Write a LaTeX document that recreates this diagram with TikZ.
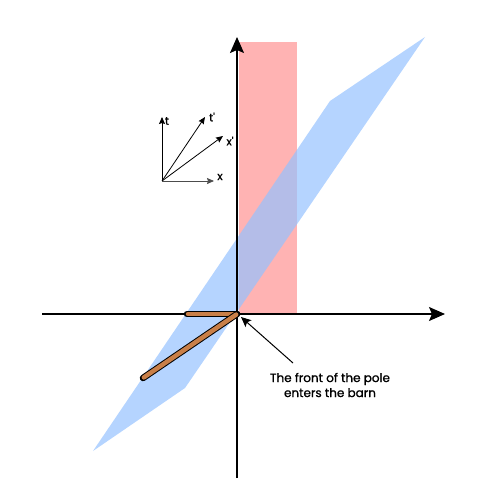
\documentclass[tikz,border=0pt]{standalone}
\usepackage{fontspec}
\setmainfont{Poppins}
\newfontfamily\semib{Poppins}[FakeBold=1.2]
\usetikzlibrary{arrows.meta}
\definecolor{barn}{RGB}{255,179,179}
\definecolor{sky}{RGB}{149,194,255}
\definecolor{pole}{RGB}{201,127,72}
\tikzset{
  axis/.style={line width=1.6pt,-{Stealth[length=16pt,width=14pt,inset=3pt]}},
  small/.style={line width=0.8pt,-{Stealth[length=7pt,width=6pt,inset=1pt]}},
  lbl/.style={font=\semib\fontsize{12pt}{15pt}\selectfont, inner sep=1pt},
  ilbl/.style={font=\semib\fontsize{11pt}{13pt}\selectfont, inner sep=1pt},
  poleout/.style={line width=6.5pt,black},
  polein/.style={line width=4.5pt,pole},
}
\begin{document}
\begin{tikzpicture}[x=1pt,y=-1pt]
\useasboundingbox (0,0) rectangle (500,500);
% barn
\fill[barn] (239,42) rectangle (297,314);
% pole frame region
\fill[sky,opacity=0.7] (425,37) -- (330,101) -- (93,451) -- (185,388) -- cycle;
% axes
\coordinate (O) at (237,314);
\coordinate (ybot) at (237,478);
\coordinate (ytop) at (237,37);
\coordinate (xl) at (42,314);
\coordinate (xr) at (445,314);
\draw[axis] (ybot) -- (ytop);
\draw[axis] (xl) -- (xr);
% poles
\coordinate (ph) at (187,314);
\coordinate (ps) at (143,378);
\draw[poleout,line cap=round] (O) -- (ph);
\draw[polein,line cap=round,shorten <=1pt,shorten >=1pt] (O) -- (ph);
\draw[poleout,line cap=round] (O) -- (ps);
\draw[polein,line cap=round,shorten <=1pt,shorten >=1pt] (O) -- (ps);
% label
\node[lbl,align=center] (note) at (330,385) {The front of the pole\\enters the barn};
\coordinate (nstart) at (293,363);
\coordinate (ntip) at (241,317);
\draw[line width=1pt,-{Stealth[length=10pt,width=9pt,inset=2pt]}] (nstart) -- (ntip);
% inset axes
\coordinate (o2) at (162,181);
\coordinate (tt) at (162,117);
\coordinate (tp) at (205,117);
\coordinate (xp) at (223,136);
\coordinate (xx) at (214,181);
\draw[small] (o2) -- (tt);
\draw[small] (o2) -- (tp);
\draw[small] (o2) -- (xp);
\draw[small,draw=black!70] (o2) -- (xx);
\node[ilbl] (tl) at (167,121) {t};
\node[ilbl] (tpl) at (212,117) {t'};
\node[ilbl] (xpl) at (230,141) {x'};
\node[ilbl] (xl2) at (220,177) {x};
\end{tikzpicture}
\end{document}
